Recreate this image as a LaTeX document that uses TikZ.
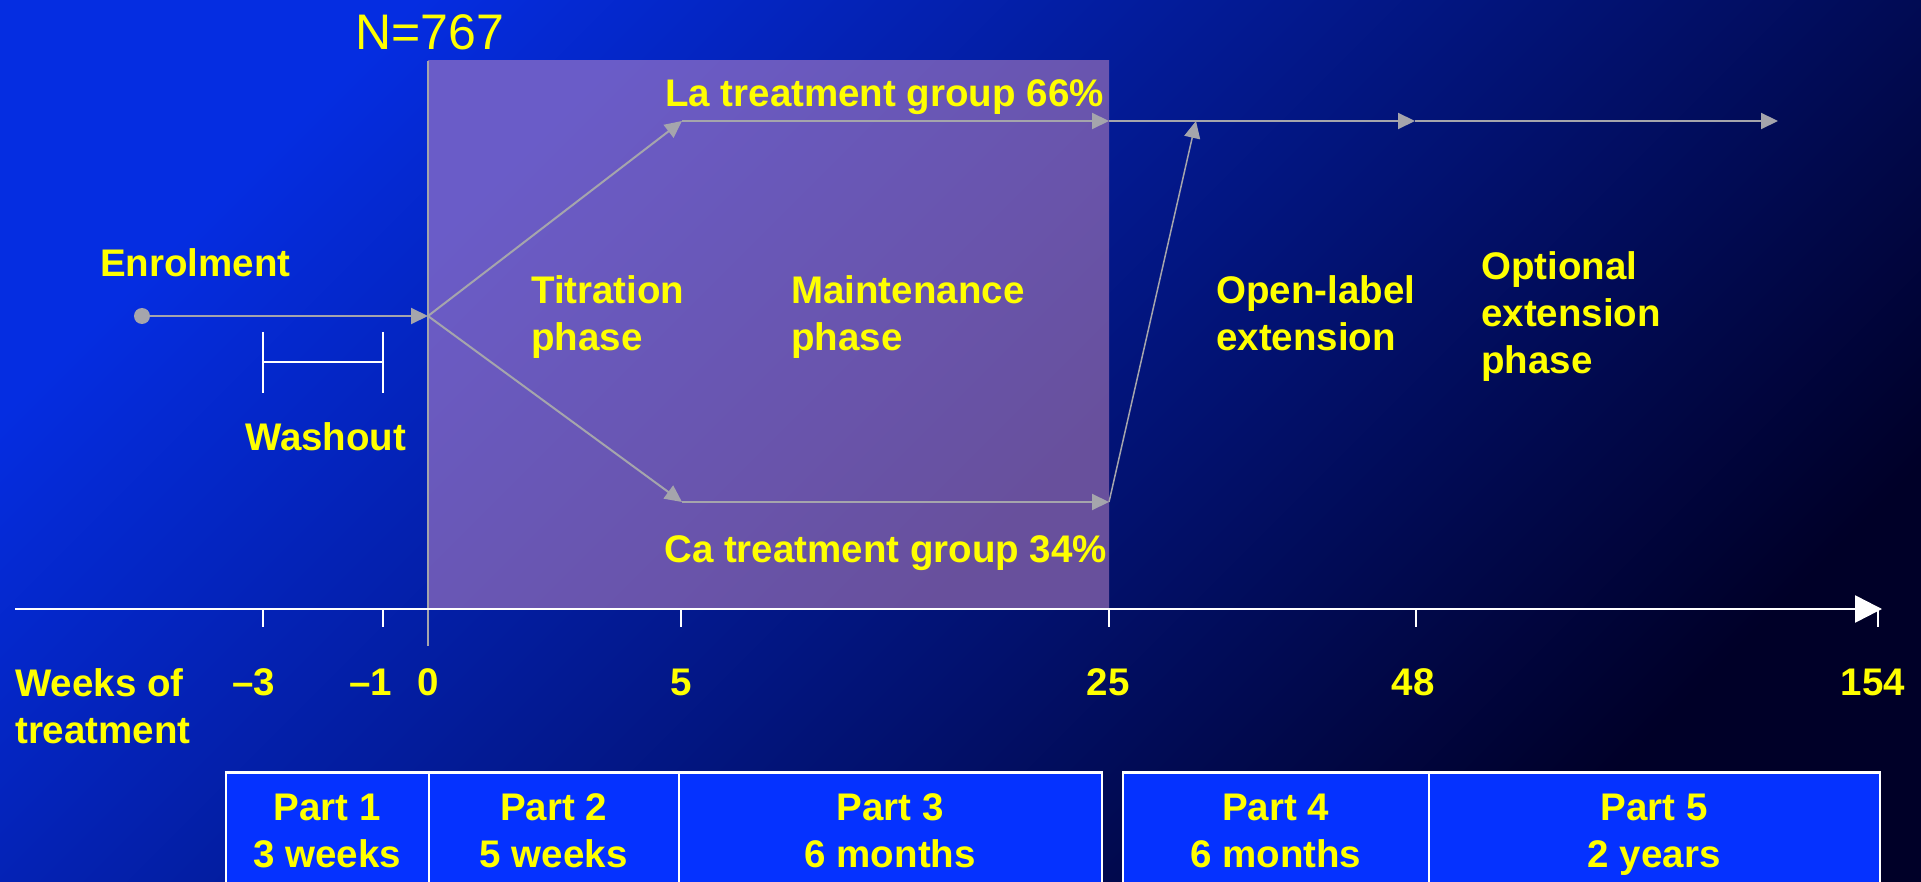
\documentclass[tikz,border=0pt]{standalone}
\usepackage{fontspec}
\setmainfont{Liberation Sans}
\usetikzlibrary{arrows.meta}
\definecolor{bgA}{RGB}{5,45,225}
\definecolor{bgB}{RGB}{0,26,160}
\definecolor{bgC}{RGB}{0,0,40}
\definecolor{purA}{RGB}{106,92,200}
\definecolor{purB}{RGB}{104,80,156}
\definecolor{arrgray}{RGB}{165,165,172}
\definecolor{txtyellow}{RGB}{255,255,0}
\definecolor{boxblue}{RGB}{5,50,255}
\tikzset{
  lbl/.style={text=txtyellow, font=\bfseries\fontsize{38.5}{46.5}\selectfont, inner sep=0pt, align=left},
  garrow/.style={draw=arrgray, line width=2pt, -{Triangle[length=17pt,width=16pt]}},
  axtick/.style={draw=white, line width=1.5pt},
  partbox/.style={draw=white, line width=1.5pt, fill=boxblue, anchor=north west, minimum height=130pt, inner sep=0pt},
}
\begin{document}
\begin{tikzpicture}[x=1pt,y=-1pt]
\useasboundingbox (0,0) rectangle (1921,882);
\shade[top color=bgA, middle color=bgB, bottom color=bgC, shading angle=45] (0,0) rectangle (1921,882);
% purple phase area
\shade[top color=purA, bottom color=purB, shading angle=45] (428,61) rectangle (1109,609);
\draw[draw=arrgray, line width=1.5pt] (428,61) -- (428,646);
% axis
\coordinate (axs) at (15,609);
\coordinate (axe) at (1882,609);
\draw[white, line width=2.5pt, -{Triangle[length=27pt,width=27pt]}] (axs) -- (axe);
\foreach \x in {263,383,681,1109,1416,1878} \draw[axtick] (\x,609) -- (\x,627);
% washout bracket
\draw[white, line width=1.5pt] (263,332) -- (263,393) (383,332) -- (383,393) (263,362) -- (383,362);
% flow
\coordinate (enr) at (142,316);
\coordinate (split) at (428,316);
\coordinate (la1) at (682,121);
\coordinate (la2) at (1109,121);
\coordinate (ca1) at (682,502);
\coordinate (ca2) at (1109,502);
\coordinate (join) at (1196,121);
\coordinate (m48) at (1415,121);
\coordinate (lend) at (1778,121);
\fill[arrgray] (enr) circle[radius=8pt];
\draw[garrow] (enr) -- (split);
\draw[garrow] (split) -- (la1);
\draw[garrow] (split) -- (ca1);
\draw[garrow] (la1) -- (la2);
\draw[garrow] (ca1) -- (ca2);
\draw[garrow] (la2) -- (m48);
\draw[garrow] (m48) -- (lend);
\draw[garrow, line width=1.5pt] (ca2) -- (join);
% labels
\node[text=txtyellow, font=\fontsize{50}{60}\selectfont, inner sep=0pt, anchor=base west] (nlab) at (355,50) {N=767};
\node[lbl, anchor=base west] (enrl) at (100,277) {Enrolment};
\node[lbl, anchor=base west] (wash) at (245,450) {Washout};
\node[lbl, anchor=base west] (tit) at (531,350) {Titration\\phase};
\node[lbl, anchor=base west] (mnt) at (791,350) {Maintenance\\phase};
\node[lbl, anchor=base west] (opl) at (1216,350) {Open-label\\extension};
\node[lbl, anchor=base west] (opt) at (1481,373) {Optional\\extension\\phase};
\node[lbl, anchor=base west] (lag) at (665,107) {La treatment group 66\%};
\node[lbl, anchor=base west] (cag) at (664,562) {Ca treatment group 34\%};
\node[lbl, anchor=base west] (wks) at (15,743) {Weeks of\\treatment};
\foreach \x/\t in {254/–3,371/–1,428/0,681/5,1108/25,1413/48,1873/154}
  \node[lbl, anchor=base] at (\x,695) {\t};
% parts
\node[partbox, minimum width=203pt] (p1) at (225,772) {};
\node[partbox, minimum width=250pt] (p2) at (428,772) {};
\node[partbox, minimum width=423pt] (p3) at (678,772) {};
\node[partbox, minimum width=306pt] (p4) at (1122,772) {};
\node[partbox, minimum width=451pt] (p5) at (1428,772) {};
\draw[white, line width=3pt] (p1.north west) -- (p3.north east);
\draw[white, line width=3pt] (p4.north west) -- (p5.north east);
\node[lbl, align=center, anchor=base] at ([yshift=-95pt]p1.north) {Part 1\\3 weeks};
\node[lbl, align=center, anchor=base] at ([yshift=-95pt]p2.north) {Part 2\\5 weeks};
\node[lbl, align=center, anchor=base] at ([yshift=-95pt]p3.north) {Part 3\\6 months};
\node[lbl, align=center, anchor=base] at ([yshift=-95pt]p4.north) {Part 4\\6 months};
\node[lbl, align=center, anchor=base] at ([yshift=-95pt]p5.north) {Part 5\\2 years};
\end{tikzpicture}
\end{document}
